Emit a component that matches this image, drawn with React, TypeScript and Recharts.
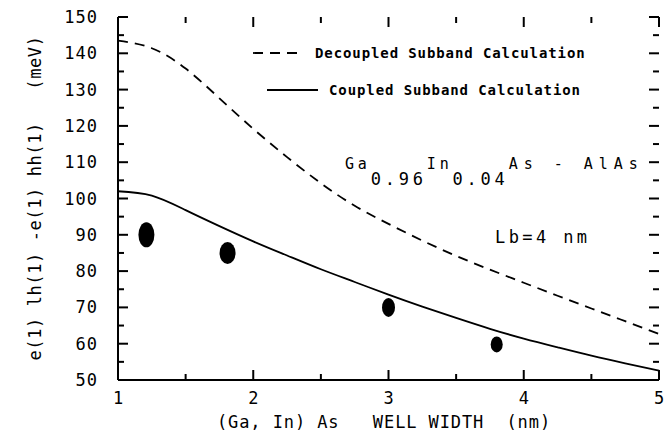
import React from 'react'
import {
	ComposedChart,
	Customized,
	Line,
	Scatter,
	XAxis,
	YAxis,
} from 'recharts'

// well width (nm)
const WIDTHS = [1, 1.25, 1.5, 1.75, 2, 2.25, 2.5, 2.75, 3, 3.25, 3.5, 3.75, 4, 4.25, 4.5, 4.75, 5]
// e(1)lh(1) - e(1)hh(1) in meV
const DECOUPLED = [143.5, 141.4, 135.8, 127.6, 119.2, 111.4, 104.2, 98, 93, 88.4, 84.2, 80.4, 76.8, 73.2, 69.7, 66.2, 62.7]
const COUPLED = [102, 100.8, 96.8, 92.4, 88.2, 84.3, 80.5, 77, 73.5, 70.2, 67.1, 64.1, 61.4, 59, 56.7, 54.6, 52.6]

// measured points
const MEAS_WIDTHS = [1.21, 1.81, 3.0, 3.8]
const MEAS_ENERGY = [90, 85, 70, 59.8]

const X_TICKS = [1, 1.5, 2, 2.5, 3, 3.5, 4, 4.5, 5]
const Y_TICKS = [50, 55, 60, 65, 70, 75, 80, 85, 90, 95, 100, 105, 110, 115, 120, 125, 130, 135, 140, 145, 150]

const lineData = WIDTHS.map((w, i) => ({ w, decoupled: DECOUPLED[i], coupled: COUPLED[i] }))
const points = MEAS_WIDTHS.map((w, i) => ({ w, e: MEAS_ENERGY[i] }))

const DOT_RADII = [
	[8, 12.5],
	[8, 11],
	[6.5, 9.5],
	[6, 8],
]

const FONT = '"DejaVu Sans Mono", monospace'
const MAJOR = 10
const MINOR = 6
// plot frame, same as the chart margins / axis sizes below
const PLOT = { left: 118, right: 659, top: 17, bottom: 380 }
const X_DOMAIN = [1, 5]
const Y_DOMAIN = [50, 150]

const isMajorX = (v: number) => Number.isInteger(v)
const isMajorY = (v: number) => v % 10 === 0
const xPx = (v: number) => PLOT.left + ((v - X_DOMAIN[0]) / (X_DOMAIN[1] - X_DOMAIN[0])) * (PLOT.right - PLOT.left)
const yPx = (v: number) => PLOT.bottom - ((v - Y_DOMAIN[0]) / (Y_DOMAIN[1] - Y_DOMAIN[0])) * (PLOT.bottom - PLOT.top)

const BottomTick = (p: any) =>
	isMajorX(p.payload.value) ? (
		<text x={p.x} y={p.y + 24} textAnchor="middle" fontSize={17} fontFamily={FONT} fill="#000">
			{p.payload.value}
		</text>
	) : (
		<g />
	)

const LeftTick = (p: any) =>
	isMajorY(p.payload.value) ? (
		<text x={p.x - 20} y={p.y + 6} textAnchor="end" fontSize={17} fontFamily={FONT} fill="#000" letterSpacing={1}>
			{p.payload.value}
		</text>
	) : (
		<g />
	)

const Blob = (props: any) => {
	const i = MEAS_WIDTHS.indexOf(props.payload?.w)
	const [rx, ry] = DOT_RADII[i] ?? [7, 10]
	return <ellipse cx={props.cx} cy={props.cy} rx={rx} ry={ry} fill="#000" />
}

// inward tick marks on all four sides
const FrameTicks = () => (
	<g stroke="#000" strokeWidth={2}>
		{X_TICKS.map((v) => {
			const len = isMajorX(v) ? MAJOR : MINOR
			return (
				<g key={`x${v}`}>
					<line x1={xPx(v)} x2={xPx(v)} y1={PLOT.bottom} y2={PLOT.bottom - len} />
					<line x1={xPx(v)} x2={xPx(v)} y1={PLOT.top} y2={PLOT.top + len} />
				</g>
			)
		})}
		{Y_TICKS.map((v) => {
			const len = isMajorY(v) ? MAJOR : MINOR
			return (
				<g key={`y${v}`}>
					<line x1={PLOT.left} x2={PLOT.left + len} y1={yPx(v)} y2={yPx(v)} />
					<line x1={PLOT.right} x2={PLOT.right - len} y1={yPx(v)} y2={yPx(v)} />
				</g>
			)
		})}
	</g>
)

// legend, compound name and axis titles
const Annotations = () => (
	<g fontFamily={FONT} fill="#000">
		<FrameTicks />
		<line x1={253} x2={300} y1={53} y2={53} stroke="#000" strokeWidth={1.8} strokeDasharray="10 7" />
		<text x={315} y={58} fontSize={14} fontWeight="bold" letterSpacing={0.9}>
			Decoupled Subband Calculation
		</text>
		<line x1={267} x2={318} y1={90} y2={90} stroke="#000" strokeWidth={1.8} />
		<text x={329} y={95} fontSize={14} fontWeight="bold" letterSpacing={0.9}>
			Coupled Subband Calculation
		</text>

		<text x={345} y={169} fontSize={15} letterSpacing={3.8} xmlSpace="preserve">
			{'Ga'}<tspan dy={16} fontSize={17}>{'0.96'}</tspan><tspan dy={-16}>{'In'}</tspan><tspan dy={16} fontSize={17}>{'0.04'}</tspan><tspan dy={-16} letterSpacing={6}>{'As - AlAs'}</tspan>
		</text>
		<text x={495} y={243} fontSize={17} letterSpacing={3.4}>
			Lb=4 nm
		</text>

		<text x={384} y={428} textAnchor="middle" fontSize={17} letterSpacing={0.9} xmlSpace="preserve">
			{'(Ga, In) As   WELL WIDTH  (nm)'}
		</text>
		<text
			x={0}
			y={0}
			transform="translate(41 198) rotate(-90)"
			textAnchor="middle"
			fontSize={17}
			letterSpacing={0.6}
			xmlSpace="preserve"
		>
			{'e(1) lh(1) -e(1) hh(1)   (meV)'}
		</text>
	</g>
)

const axisLine = { stroke: '#000', strokeWidth: 2 }

export default function App() {
	return (
		<div style={{ position: 'absolute', left: 0, top: 0 }}>
			<ComposedChart
				width={668}
				height={439}
				data={lineData}
				margin={{ top: PLOT.top, right: 668 - PLOT.right, bottom: 0, left: 0 }}
			>
				<XAxis
					xAxisId="b"
					type="number"
					dataKey="w"
					domain={X_DOMAIN}
					ticks={X_TICKS}
					interval={0}
					height={439 - PLOT.bottom}
					tickSize={0}
					tickMargin={0}
					tickLine={false}
					axisLine={axisLine}
					tick={<BottomTick />}
				/>
				<XAxis
					xAxisId="t"
					orientation="top"
					type="number"
					dataKey="w"
					domain={X_DOMAIN}
					height={0}
					tick={false}
					tickLine={false}
					axisLine={axisLine}
				/>
				<YAxis
					yAxisId="l"
					type="number"
					domain={Y_DOMAIN}
					ticks={Y_TICKS}
					interval={0}
					width={PLOT.left}
					tickSize={0}
					tickMargin={0}
					tickLine={false}
					axisLine={axisLine}
					tick={<LeftTick />}
				/>
				<YAxis
					yAxisId="r"
					orientation="right"
					type="number"
					domain={Y_DOMAIN}
					width={0}
					tick={false}
					tickLine={false}
					axisLine={axisLine}
				/>
				<Line
					xAxisId="b"
					yAxisId="l"
					type="natural"
					dataKey="decoupled"
					stroke="#000"
					strokeWidth={1.8}
					strokeDasharray="10 7"
					dot={false}
					isAnimationActive={false}
				/>
				<Line
					xAxisId="b"
					yAxisId="l"
					type="natural"
					dataKey="coupled"
					stroke="#000"
					strokeWidth={1.8}
					dot={false}
					isAnimationActive={false}
				/>
				<Scatter
					xAxisId="b"
					yAxisId="l"
					data={points}
					dataKey="e"
					shape={<Blob />}
					isAnimationActive={false}
				/>
				<Customized component={Annotations} />
			</ComposedChart>
		</div>
	)
}
